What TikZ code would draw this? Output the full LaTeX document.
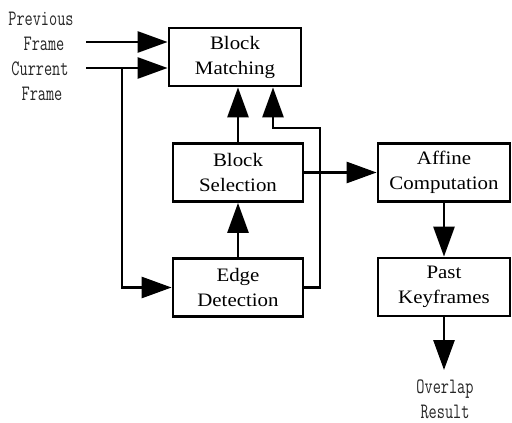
\documentclass[tikz,border=0pt]{standalone}
\usepackage{fontspec}
\newfontfamily\boxfont[FakeStretch=1.1]{Liberation Serif}
\newfontfamily\tagfont[FakeStretch=0.72]{Latin Modern Mono}
\usetikzlibrary{arrows.meta}

\begin{document}
\begin{tikzpicture}[x=1pt,y=-1pt,line width=2.8pt,
  stage/.style={draw,line width=2.8pt,minimum width=132pt,minimum height=58pt,
    align=center,inner sep=0pt,font=\boxfont\fontsize{19}{25}\selectfont},
  flow/.style={-{Triangle[length=30pt,width=21pt]}},
  tag/.style={anchor=base,inner sep=0pt,text=black!85,
    font=\tagfont\fontsize{22}{25}\selectfont}]
\useasboundingbox (0,0) rectangle (512,423);

% processing stages
\node[stage] (bm) at (235,57)    {Block\\Matching};
\node[stage,minimum width=130pt] (bs) at (238,172.5) {Block\\Selection};
\node[stage,minimum width=130pt] (ed) at (238,287.5) {Edge\\Detection};
\node[stage] (ac) at (444,172.5) {Affine\\Computation};
\node[stage] (pk) at (444,287)   {Past\\Keyframes};

% input and output labels
\node[tag] (prev1) at (41,25)  {Previous};
\node[tag] (prev2) at (44,50)  {Frame};
\node[tag] (cur1)  at (40,75)  {Current};
\node[tag] (cur2)  at (42,100) {Frame};
\node[tag] (out1)  at (445,393) {Overlap};
\node[tag] (out2)  at (445,418) {Result};

% connector end points
\coordinate (prevIn) at (86,42);
\coordinate (curIn)  at (86,68);
\coordinate (split)  at (122,68);
\coordinate (fbR)    at (320,128);
\coordinate (fbL)    at (273,128);
\coordinate (outEnd) at (444,370);

% connectors
\draw[flow] (prevIn) -- (bm.west |- prevIn);
\draw[flow] (curIn) -- (bm.west |- curIn);
\draw[flow] (split) |- (ed.west);
\draw[flow] (ed.north) -- (bs.south);
\draw[flow] (bs.north) -- (bs.north |- bm.south);
\draw[flow] (ed.east) -| (fbR) -- (fbL) -- (fbL |- bm.south);
\draw[flow] (bs.east) -- (ac.west |- bs.east);
\draw[flow] (ac.south) -- (pk.north);
\draw[flow] (pk.south) -- (outEnd);
\end{tikzpicture}
\end{document}
